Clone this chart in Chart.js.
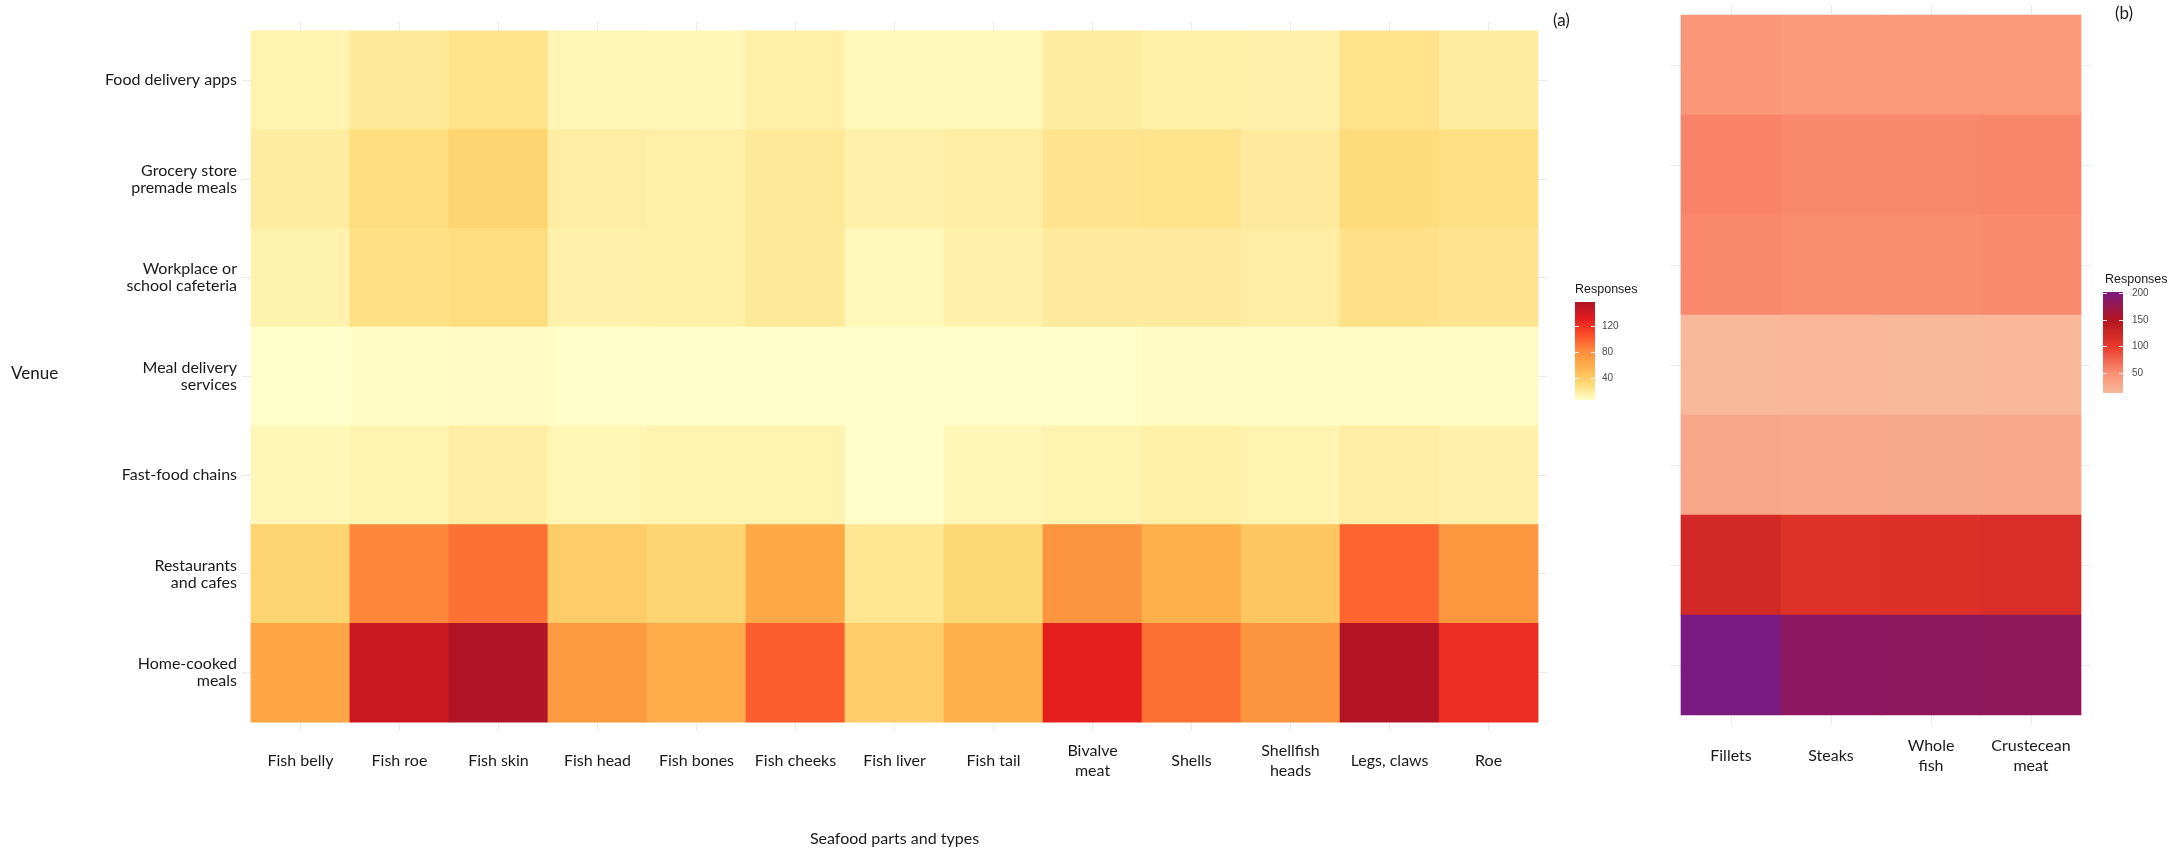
<!DOCTYPE html>
<html>
<head>
<meta charset="utf-8">
<title>Seafood parts and types by venue</title>
<script src="https://cdn.jsdelivr.net/npm/chart.js@4.4.0/dist/chart.umd.min.js"></script>
<style>
  html, body { margin: 0; padding: 0; background: #fff; }
  #wrap { position: relative; width: 2174px; height: 851px; overflow: hidden; }
  .box { position: absolute; top: 0; height: 851px; }
  #box-a { left: 0; width: 1660px; }
  #box-b { left: 1660px; width: 514px; }
</style>
</head>
<body>
<div id="wrap">
  <div class="box" id="box-a"><canvas id="heat-parts"></canvas></div>
  <div class="box" id="box-b"><canvas id="heat-types"></canvas></div>
</div>
<script>
// venues, top to bottom
const venueLabels = [
  'Food delivery apps',
  ['Grocery store', 'premade meals'],
  ['Workplace or', 'school cafeteria'],
  ['Meal delivery', 'services'],
  'Fast-food chains',
  ['Restaurants', 'and cafes'],
  ['Home-cooked', 'meals']
];
const partLabels = ['Fish belly', 'Fish roe', 'Fish skin', 'Fish head', 'Fish bones', 'Fish cheeks',
  'Fish liver', 'Fish tail', ['Bivalve', 'meat'], 'Shells', ['Shellfish', 'heads'], 'Legs, claws', 'Roe'];
const typeLabels = ['Fillets', 'Steaks', ['Whole', 'fish'], ['Crustecean', 'meat']];

// (a) responses for each seafood part, one array per venue
const partsFoodApps     = [13, 20, 24, 12, 11, 16, 10, 10, 18, 16, 15, 24, 18];
const partsGrocery      = [18, 28, 34, 17, 16, 20, 15, 17, 23, 24, 19, 29, 26];
const partsWorkplace    = [14, 26, 28, 15, 16, 20, 10, 15, 19, 19, 17, 25, 23];
const partsMealDelivery = [5, 7, 8, 6, 6, 6, 6, 6, 6, 8, 7, 7, 7];
const partsFastFood     = [11, 13, 17, 12, 13, 13, 6, 11, 13, 16, 13, 17, 15];
const partsRestaurants  = [34, 84, 93, 39, 33, 62, 22, 31, 77, 57, 43, 98, 74];
const partsHomeCooked   = [65, 144, 158, 73, 60, 101, 39, 57, 130, 93, 77, 156, 123];

// (b) responses for each seafood type, one array per venue
const typesFoodApps     = [43, 41, 41, 42];
const typesGrocery      = [57, 54, 54, 56];
const typesWorkplace    = [54, 52, 52, 53];
const typesMealDelivery = [12, 13, 12, 13];
const typesFastFood     = [30, 27, 26, 27];
const typesRestaurants  = [121, 110, 112, 116];
const typesHomeCooked   = [202, 185, 184, 183];

// colour bar breaks
const legendTicksA = [40, 80, 120];
const legendTicksB = [50, 100, 150, 200];

// colour ramps: [position 0..1, colour]
const RAMP_A = [[0, '#ffffcc'], [1 / 6, '#fed976'], [2 / 6, '#feb24c'], [3 / 6, '#fd8d3c'],
  [4 / 6, '#fc4e2a'], [5 / 6, '#e31a1c'], [1, '#b01527']];
const RAMP_B = [[0, '#f8b89a'], [0.2, '#fb8f72'], [0.463, '#e9392c'], [0.726, '#b3141e'], [1, '#7a1a80']];

const TEXT_FONT = 'Lato, "Open Sans", sans-serif';
const LEGEND_FONT = '"Liberation Sans", Arial, sans-serif';

function hexToRgb(hex) {
  const n = parseInt(hex.slice(1), 16);
  return [n >> 16, (n >> 8) & 255, n & 255];
}

function rampColor(stops, t) {
  t = Math.max(0, Math.min(1, t));
  for (let i = 1; i < stops.length; i++) {
    const [p1, c1] = stops[i];
    if (t <= p1) {
      const [p0, c0] = stops[i - 1];
      const f = (t - p0) / (p1 - p0);
      const a = hexToRgb(c0), b = hexToRgb(c1);
      return 'rgb(' + a.map((v, k) => Math.round(v + (b[k] - v) * f)).join(',') + ')';
    }
  }
  return stops[stops.length - 1][1];
}

// colour bar drawn to the right of the plot area
const heatLegend = {
  id: 'heatLegend',
  afterDraw(chart, args, opts) {
    if (!opts.stops) return;
    const { ctx, chartArea } = chart;
    const x0 = chartArea.right + opts.offsetX;
    const y0 = opts.top, h = opts.height, w = opts.width;
    const span = opts.max - opts.min;
    ctx.save();
    const grad = ctx.createLinearGradient(0, y0 + h, 0, y0);
    opts.stops.forEach(([p, c]) => grad.addColorStop(p, c));
    ctx.fillStyle = grad;
    ctx.fillRect(x0, y0, w, h);

    ctx.font = opts.labelFont;
    ctx.fillStyle = '#4d4d4d';
    ctx.textAlign = 'left';
    ctx.textBaseline = 'middle';
    opts.ticks.forEach(v => {
      const y = Math.round(y0 + h - (v - opts.min) / span * h) + 0.5;
      ctx.strokeStyle = 'rgba(255,255,255,0.9)';
      ctx.lineWidth = 1;
      ctx.beginPath();
      ctx.moveTo(x0, y); ctx.lineTo(x0 + w / 5, y);
      ctx.moveTo(x0 + w - w / 5, y); ctx.lineTo(x0 + w, y);
      ctx.stroke();
      ctx.fillText(String(v), x0 + w + opts.labelGap, y);
    });

    ctx.font = opts.titleFont;
    ctx.fillStyle = '#1a1a1a';
    ctx.fillText(opts.title, x0 + opts.titleShift, opts.titleY);
    ctx.restore();
  }
};

// loose text: panel tags and the horizontal y-axis title
const panelText = {
  id: 'panelText',
  afterDraw(chart, args, opts) {
    if (!opts.items) return;
    const { ctx } = chart;
    ctx.save();
    opts.items.forEach(it => {
      ctx.font = it.font;
      ctx.fillStyle = '#1a1a1a';
      ctx.textAlign = 'left';
      ctx.textBaseline = 'middle';
      ctx.fillText(it.text, it.x, it.y);
    });
    ctx.restore();
  }
};

function heatChart(canvasId, rows, colLabels, rowLabels, stops, cfg) {
  const values = rows.flat();
  const lo = Math.min(...values), hi = Math.max(...values);
  const points = [], colors = [];
  rows.forEach((row, r) => row.forEach((v, c) => {
    points.push({ x: c + 0.5, y: [r, r + 1] });
    colors.push(rampColor(stops, (v - lo) / (hi - lo)));
  }));

  const rowFont = { family: TEXT_FONT, size: 16, lineHeight: '17px' };
  const colFont = { family: TEXT_FONT, size: 16, lineHeight: '20px' };
  const grid = { color: '#ebebeb', lineWidth: 1, drawTicks: false, offset: false };

  return new Chart(document.getElementById(canvasId), {
    type: 'bar',
    data: {
      datasets: [{
        data: points,
        backgroundColor: colors,
        borderWidth: 0,
        barPercentage: 1,
        categoryPercentage: 1
      }]
    },
    options: {
      responsive: true,
      maintainAspectRatio: false,
      animation: false,
      events: [],
      layout: { padding: { top: cfg.padTop, right: cfg.padRight, left: 0, bottom: 0 } },
      plugins: {
        legend: { display: false },
        tooltip: { enabled: false },
        heatLegend: Object.assign({ stops, min: lo, max: hi }, cfg.legend),
        panelText: { items: cfg.texts }
      },
      scales: {
        x: {
          type: 'linear',
          offset: false,
          min: -cfg.ext,
          max: colLabels.length + cfg.ext,
          afterBuildTicks: s => { s.ticks = colLabels.map((_, i) => ({ value: i + 0.5 })); },
          afterFit: s => { s.height = cfg.xHeight; },
          grid,
          border: { display: false },
          ticks: {
            autoSkip: false,
            maxRotation: 0,
            padding: cfg.xPad,
            crossAlign: 'center',
            color: '#1a1a1a',
            font: colFont,
            callback: (v, i) => colLabels[i]
          },
          title: cfg.xTitle ? {
            display: true,
            text: cfg.xTitle,
            color: '#1a1a1a',
            font: { family: TEXT_FONT, size: 16, lineHeight: '20px' },
            padding: { top: 0, bottom: 2 }
          } : { display: false }
        },
        y: {
          type: 'linear',
          reverse: true,
          offset: false,
          min: -cfg.ext,
          max: rows.length + cfg.ext,
          afterBuildTicks: s => { s.ticks = rows.map((_, i) => ({ value: i + 0.5 })); },
          afterFit: s => { s.width = cfg.yWidth; },
          grid,
          border: { display: false },
          ticks: {
            display: !!rowLabels,
            padding: 5,
            color: '#1a1a1a',
            font: rowFont,
            callback: (v, i) => rowLabels ? rowLabels[i] : ''
          }
        }
      }
    },
    plugins: [heatLegend, panelText]
  });
}

function build() {
  heatChart('heat-parts',
    [partsFoodApps, partsGrocery, partsWorkplace, partsMealDelivery, partsFastFood, partsRestaurants, partsHomeCooked],
    partLabels, venueLabels, RAMP_A, {
      ext: 0.09, padTop: 13, padRight: 113, xHeight: 120, yWidth: 242, xPad: 20,
      xTitle: 'Seafood parts and types',
      legend: {
        offsetX: 28, top: 302, height: 98, width: 20, ticks: legendTicksA, labelGap: 7,
        title: 'Responses', titleY: 290, titleShift: 0,
        titleFont: '12.5px ' + LEGEND_FONT, labelFont: '10px ' + LEGEND_FONT
      },
      texts: [
        { text: '(a)', x: 1553, y: 21, font: '17px ' + TEXT_FONT },
        { text: 'Venue', x: 11, y: 374, font: '17px ' + TEXT_FONT }
      ]
    });

  heatChart('heat-types',
    [typesFoodApps, typesGrocery, typesWorkplace, typesMealDelivery, typesFastFood, typesRestaurants, typesHomeCooked],
    typeLabels, null, RAMP_B, {
      ext: 0.1, padTop: 5, padRight: 83, xHeight: 126, yWidth: 11, xPad: 21,
      xTitle: null,
      legend: {
        offsetX: 12, top: 292, height: 101, width: 20, ticks: legendTicksB, labelGap: 9,
        title: 'Responses', titleY: 280, titleShift: 2,
        titleFont: '12.5px ' + LEGEND_FONT, labelFont: '10px ' + LEGEND_FONT
      },
      texts: [
        { text: '(b)', x: 455, y: 14, font: '17px ' + TEXT_FONT }
      ]
    });
}

document.fonts.load('16px Lato').then(build, build);
</script>
</body>
</html>
